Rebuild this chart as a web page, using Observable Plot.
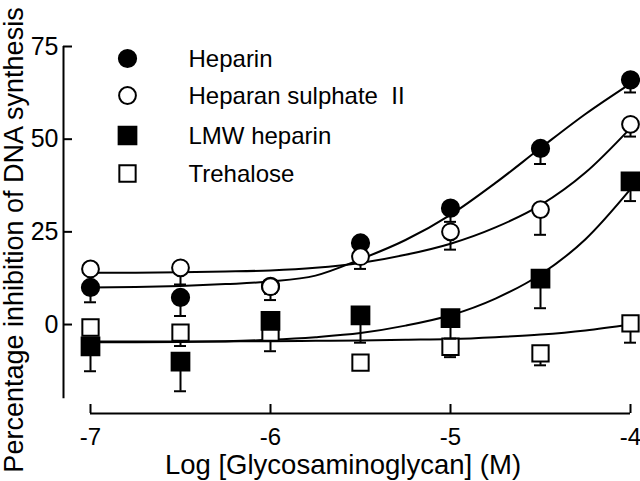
<!DOCTYPE html>
<html><head><meta charset="utf-8">
<script src="https://cdn.jsdelivr.net/npm/d3@7"></script>
<script src="https://cdn.jsdelivr.net/npm/@observablehq/plot@0.6"></script>
<style>body{margin:0;background:#fff} #chart svg{display:block}</style>
</head><body><div id="chart"></div>
<script>
// ---- data ----
const logConc = [-7, -6.5, -6, -5.5, -5, -4.5, -4];
const seriesNames = ["Heparin", "Heparan sulphate\u00a0 II", "LMW heparin", "Trehalose"];

const heparin      = [10, 7.3, 10.3, 22, 31.4, 47.5, 66];
const heparinErr   = [4, 5, 2, 2, 3.7, 4.2, 3.4];
const heparan      = [15, 15.3, 10.2, 18.3, 25, 31, 54];
const heparanErr   = [1, 4.5, 3.6, 3.3, 4.8, 6.8, 3.3];
const lmw          = [-5.9, -10, 1, 2.5, 1.7, 12.4, 38.6];
const lmwErr       = [6.7, 8, 2, 7.4, 5.5, 8, 5.3];
const trehalose    = [-0.8, -2.2, -2.2, -10.3, -6, -7.8, 0.3];
const trehaloseErr = [1, 3.6, 5, 1, 2.8, 3.2, 5.2];

// fitted curves
const fitX         = [-7, -6.75, -6.5, -6.25, -6, -5.75, -5.5, -5.25, -5, -4.75, -4.5, -4.25, -4];
const heparinFit   = [10, 10.1, 10.4, 10.9, 11.6, 13.2, 17.6, 22.8, 29.6, 38.2, 47.6, 56.8, 65];
const heparanFit   = [14, 14, 14.1, 14.3, 14.6, 15.3, 16.6, 18.8, 21.8, 26.2, 32.2, 41, 53];
const lmwFit       = [-4.8, -4.8, -4.7, -4.5, -4.1, -3.4, -2.3, -0.3, 2.5, 7, 13.5, 23, 36.5];
const trehaloseFit = [-4.6, -4.6, -4.6, -4.55, -4.5, -4.4, -4.3, -4.1, -3.9, -3.4, -2.7, -1.6, 0];

const xTicks = [-7, -6, -5, -4];
const yTicks = [0, 25, 50, 75];
const xTitle = "Log [Glycosaminoglycan] (M)";
const yTitle = "Percentage inhibition of DNA synthesis";

// ---- layout / style ----
const W = 640, H = 481;
const mL = 63, mR = 10, mT = 46, mB = 68;
const xDomain = [-7.15, -4];
const yDomain = [-24, 75];
const yAxisBottom = -20;
const frameW = W - mL - mR, frameH = H - mT - mB;

const styles = [
  {symbol: "circle", r: 8.6, fill: "black", stroke: "black"},
  {symbol: "circle", r: 8.4, fill: "white", stroke: "black"},
  {symbol: "square", r: 10, fill: "black", stroke: "black"},
  {symbol: "square", r: 9.2, fill: "white", stroke: "black"}
];
const legendDy = [12, 49, 89, 127];

const vals = [heparin, heparan, lmw, trehalose];
const errs = [heparinErr, heparanErr, lmwErr, trehaloseErr];
const fits = [heparinFit, heparanFit, lmwFit, trehaloseFit];

const rows = vals.map((v, s) => logConc.map((x, i) => ({x, y: v[i], lo: v[i] - errs[s][i]})));
const fitRows = fits.map(f => fitX.map((x, i) => ({x, y: f[i]})));

const marks = [];
// fitted curves
fitRows.forEach(fr => marks.push(Plot.line(fr, {x: "x", y: "y", curve: "monotone-x", stroke: "black", strokeWidth: 2})));
// points: draw order trehalose, LMW, heparin, heparan
[3, 2, 0, 1].forEach(s => {
  const st = styles[s];
  marks.push(Plot.ruleX(rows[s], {x: "x", y1: "y", y2: "lo", stroke: "black", strokeWidth: 2}));
  marks.push(Plot.ruleY(rows[s], {x1: "x", x2: "x", y: "lo", insetLeft: -6, insetRight: -6, stroke: "black", strokeWidth: 2}));
  marks.push(Plot.dot(rows[s], {x: "x", y: "y", symbol: st.symbol, r: st.r, fill: st.fill, stroke: st.stroke, strokeWidth: 2}));
});
// legend
seriesNames.forEach((name, s) => {
  const st = styles[s];
  marks.push(Plot.dot([name], {frameAnchor: "top-left", dx: 64, dy: legendDy[s], symbol: st.symbol, r: st.r, fill: st.fill, stroke: st.stroke, strokeWidth: 2}));
  marks.push(Plot.text([name], {text: d => d, frameAnchor: "top-left", dx: 125, dy: legendDy[s] + 1, textAnchor: "start", lineAnchor: "middle", fontSize: 24}));
});
// axes
marks.push(Plot.ruleX([xDomain[0]], {y1: yAxisBottom, y2: yTicks[yTicks.length - 1], stroke: "black", strokeWidth: 2}));
marks.push(Plot.ruleY([yDomain[0]], {x1: xTicks[0], x2: xTicks[xTicks.length - 1], stroke: "black", strokeWidth: 2}));
marks.push(Plot.tickY(yTicks, {y: d => d, insetRight: frameW - 9, stroke: "black", strokeWidth: 2}));
marks.push(Plot.tickX(xTicks, {x: d => d, insetTop: frameH - 9, stroke: "black", strokeWidth: 2}));
marks.push(Plot.axisY({ticks: yTicks, tickSize: 0, tickPadding: 5, label: null, fontSize: 25, tickFormat: d => String(d)}));
marks.push(Plot.axisX({ticks: xTicks, tickSize: 0, tickPadding: 14, label: null, fontSize: 24, tickFormat: d => String(d)}));
marks.push(Plot.text([xTitle], {text: d => d, frameAnchor: "bottom", dx: -4, dy: 52, textAnchor: "middle", lineAnchor: "middle", fontSize: 27.5}));
marks.push(Plot.text([yTitle], {text: d => d, frameAnchor: "left", rotate: -90, dx: -49, dy: 10, textAnchor: "middle", lineAnchor: "middle", fontSize: 27}));

const chart = Plot.plot({
  width: W, height: H,
  marginLeft: mL, marginRight: mR, marginTop: mT, marginBottom: mB,
  x: {domain: xDomain, axis: null},
  y: {domain: yDomain, axis: null},
  style: {fontFamily: "'Liberation Sans', Arial, sans-serif", background: "white", color: "black", overflow: "visible"},
  marks
});
document.getElementById("chart").appendChild(chart);
</script>
</body></html>
